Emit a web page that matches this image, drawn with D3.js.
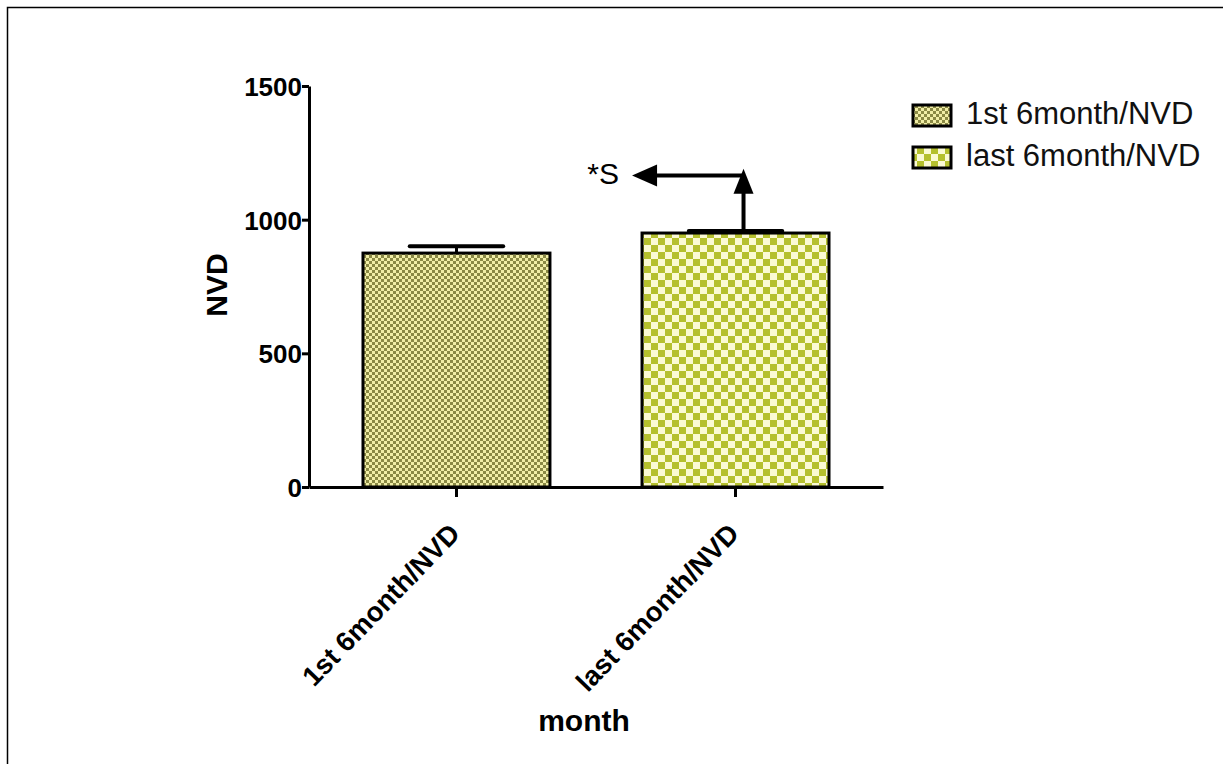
<!DOCTYPE html>
<html>
<head>
<meta charset="utf-8">
<script src="https://cdn.jsdelivr.net/npm/d3@7"></script>
<style>
  html, body { margin: 0; padding: 0; background: #fff; }
  svg { display: block; }
  text { font-family: "Liberation Sans", Arial, sans-serif; }
</style>
</head>
<body>
<svg id="chart" width="1223" height="764"></svg>
<script>
// ---- data ----
const categories = ["1st 6month/NVD", "last 6month/NVD"];
const values = [875, 950];
const errors = [26, 8];
const yTicks = [0, 500, 1000, 1500];
const legendLabels = ["1st 6month/NVD", "last 6month/NVD"];
const yLabel = "NVD";
const xLabel = "month";
const sigLabel = "*S";
const sigLevels = [1190, 1165]; // top of vertical arrow, level of horizontal arrow

// ---- setup ----
const svg = d3.select("#chart");
const W = 1223, H = 764;
svg.append("rect").attr("width", W).attr("height", H).attr("fill", "#fff");
svg.append("path").attr("d", `M7.5,${H} V7.5 H${W}`).attr("fill", "none")
  .attr("stroke", "#000").attr("stroke-width", 1.5);

const defs = svg.append("defs");
function checker(id, cell, dark, light) {
  const p = defs.append("pattern").attr("id", id).attr("patternUnits", "userSpaceOnUse")
    .attr("width", cell * 2).attr("height", cell * 2);
  p.append("rect").attr("width", cell * 2).attr("height", cell * 2).attr("fill", light);
  p.append("rect").attr("width", cell).attr("height", cell).attr("fill", dark);
  p.append("rect").attr("x", cell).attr("y", cell).attr("width", cell).attr("height", cell).attr("fill", dark);
}
checker("pat0", 3, "#8a8944", "#f1eea6");
checker("pat1", 7, "#b5c02e", "#fbfad4");
const fills = ["url(#pat0)", "url(#pat1)"];

const y = d3.scaleLinear().domain([0, 1500]).range([487, 86]);
const x = d3.scaleBand().domain(categories).range([309, 883]).paddingInner(0.33).paddingOuter(0.1935);
const bw = x.bandwidth();

// bars
svg.selectAll("rect.bar").data(categories).join("rect")
  .attr("class", "bar")
  .attr("x", d => x(d)).attr("width", bw)
  .attr("y", (d, i) => y(values[i])).attr("height", (d, i) => y(0) - y(values[i]))
  .attr("fill", (d, i) => fills[i]).attr("stroke", "#000").attr("stroke-width", 3);

// error bars
const eb = svg.append("g");
categories.forEach((c, i) => {
  const cx = x(c) + bw / 2;
  eb.append("line").attr("x1", cx).attr("x2", cx)
    .attr("y1", y(values[i])).attr("y2", y(values[i] + errors[i]))
    .attr("stroke", "#000").attr("stroke-width", 3);
  eb.append("line").attr("x1", cx - bw * 0.25).attr("x2", cx + bw * 0.25)
    .attr("y1", y(values[i] + errors[i])).attr("y2", y(values[i] + errors[i]))
    .attr("stroke", "#000").attr("stroke-width", 4).attr("stroke-linecap", "round");
});

// axes
const yAxis = svg.append("g").attr("transform", "translate(309,0)")
  .call(d3.axisLeft(y).tickValues(yTicks).tickFormat(d3.format("d"))
    .tickSize(7).tickSizeOuter(0).tickPadding(0));
const xAxis = svg.append("g").attr("transform", "translate(0,487)")
  .call(d3.axisBottom(x).tickSize(10).tickSizeOuter(0).tickFormat(""));
[yAxis, xAxis].forEach(g => {
  g.select(".domain").attr("stroke", "#000").attr("stroke-width", 3);
  g.selectAll(".tick line").attr("stroke", "#000").attr("stroke-width", 3);
});
yAxis.selectAll(".tick text").attr("fill", "#000")
  .style("font-size", "26px").style("font-weight", "bold").attr("dy", "0.36em");

// rotated x tick labels
svg.append("g").selectAll("text").data(categories).join("text")
  .attr("transform", d => `translate(${x(d) + bw / 2 + 5},${535}) rotate(-46)`)
  .attr("text-anchor", "end").attr("fill", "#000")
  .style("font-size", "27.5px").style("font-weight", "bold")
  .text(d => d);

// axis titles
svg.append("text").attr("x", 584).attr("y", 731).attr("text-anchor", "middle")
  .style("font-size", "30px").style("font-weight", "bold").text(xLabel);
svg.append("text").attr("transform", "translate(227,285) rotate(-90)").attr("text-anchor", "middle")
  .style("font-size", "30px").style("font-weight", "bold").text(yLabel);

// significance annotation
const c2 = categories[1];
const ax = x(c2) + bw / 2 + 8;
const yTop = y(sigLevels[0]);
const yH = y(sigLevels[1]);
const tipX = x(c2) - 10;
const ann = svg.append("g");
ann.append("line").attr("x1", ax).attr("x2", ax).attr("y1", y(values[1] + errors[1])).attr("y2", yTop + 20)
  .attr("stroke", "#000").attr("stroke-width", 4);
ann.append("path").attr("d", `M${ax},${yTop} L${ax - 10},${yTop + 25} L${ax + 10},${yTop + 25} Z`).attr("fill", "#000");
ann.append("line").attr("x1", ax).attr("x2", tipX + 20).attr("y1", yH).attr("y2", yH)
  .attr("stroke", "#000").attr("stroke-width", 4);
ann.append("path").attr("d", `M${tipX},${yH} L${tipX + 25},${yH - 11} L${tipX + 25},${yH + 11} Z`).attr("fill", "#000");
ann.append("text").attr("x", tipX - 13).attr("y", yH + 8).attr("text-anchor", "end")
  .style("font-size", "30px").text(sigLabel);

// legend
const lg = svg.append("g");
legendLabels.forEach((l, i) => {
  const base = 124 + i * 42;
  lg.append("rect").attr("x", 913).attr("y", base - 19).attr("width", 38).attr("height", 21)
    .attr("fill", fills[i]).attr("stroke", "#000").attr("stroke-width", 3);
  lg.append("text").attr("x", 966).attr("y", base).attr("fill", "#111")
    .style("font-size", "31px").text(l);
});
</script>
</body>
</html>
